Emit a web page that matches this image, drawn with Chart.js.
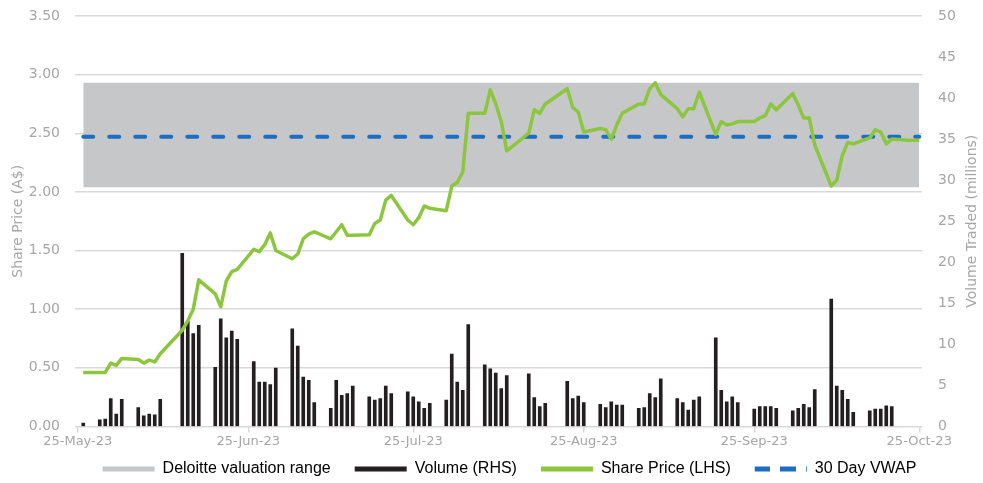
<!DOCTYPE html>
<html lang="en">
<head>
<meta charset="UTF-8">
<title>Share price, volume and valuation range</title>
<script src="https://cdn.jsdelivr.net/npm/chart.js@4/dist/chart.umd.min.js"></script>
<style>
  body { margin: 0; background: #fff; }
  #wrap { width: 983px; height: 483px; }
</style>
</head>
<body>
<div id="wrap"><canvas id="chart" width="983" height="483"></canvas></div>
<script>
// x axis runs over every calendar day, ticks on the 25th
const firstDay = [2023, 4, 25];
const dayCount = 154;
const monthNames = ['Jan', 'Feb', 'Mar', 'Apr', 'May', 'Jun', 'Jul', 'Aug', 'Sep', 'Oct', 'Nov', 'Dec'];

const tradeDates = [
  '26-May-23', '29-May-23', '30-May-23', '31-May-23', '1-Jun-23', '2-Jun-23',
  '5-Jun-23', '6-Jun-23', '7-Jun-23', '8-Jun-23', '9-Jun-23',
  '13-Jun-23', '14-Jun-23', '15-Jun-23', '16-Jun-23',
  '19-Jun-23', '20-Jun-23', '21-Jun-23', '22-Jun-23', '23-Jun-23',
  '26-Jun-23', '27-Jun-23', '28-Jun-23', '29-Jun-23', '30-Jun-23',
  '3-Jul-23', '4-Jul-23', '5-Jul-23', '6-Jul-23', '7-Jul-23',
  '10-Jul-23', '11-Jul-23', '12-Jul-23', '13-Jul-23', '14-Jul-23',
  '17-Jul-23', '18-Jul-23', '19-Jul-23', '20-Jul-23', '21-Jul-23',
  '24-Jul-23', '25-Jul-23', '26-Jul-23', '27-Jul-23', '28-Jul-23',
  '31-Jul-23', '1-Aug-23', '2-Aug-23', '3-Aug-23', '4-Aug-23',
  '7-Aug-23', '8-Aug-23', '9-Aug-23', '10-Aug-23', '11-Aug-23',
  '15-Aug-23', '16-Aug-23', '17-Aug-23', '18-Aug-23',
  '22-Aug-23', '23-Aug-23', '24-Aug-23', '25-Aug-23',
  '28-Aug-23', '29-Aug-23', '30-Aug-23', '31-Aug-23', '1-Sep-23',
  '4-Sep-23', '5-Sep-23', '6-Sep-23', '7-Sep-23', '8-Sep-23',
  '11-Sep-23', '12-Sep-23', '13-Sep-23', '14-Sep-23', '15-Sep-23',
  '18-Sep-23', '19-Sep-23', '20-Sep-23', '21-Sep-23', '22-Sep-23',
  '25-Sep-23', '26-Sep-23', '27-Sep-23', '28-Sep-23', '29-Sep-23',
  '2-Oct-23', '3-Oct-23', '4-Oct-23', '5-Oct-23', '6-Oct-23',
  '9-Oct-23', '10-Oct-23', '11-Oct-23', '12-Oct-23', '13-Oct-23',
  '16-Oct-23', '17-Oct-23', '18-Oct-23', '19-Oct-23', '20-Oct-23',
  '23-Oct-23', '24-Oct-23', '25-Oct-23'
];

// A$
const sharePrice = [
  0.46, 0.46, 0.46, 0.54, 0.52, 0.58,
  0.57, 0.54, 0.565, 0.55, 0.62,
  0.82, 0.90, 1.00, 1.25,
  1.13, 1.02, 1.24, 1.32, 1.34,
  1.51, 1.49, 1.55, 1.65, 1.50,
  1.43, 1.47, 1.60, 1.64, 1.66,
  1.60, 1.66, 1.72, 1.63, 1.63,
  1.635, 1.73, 1.76, 1.93, 1.97,
  1.76, 1.72, 1.78, 1.88, 1.86,
  1.84, 2.05, 2.08, 2.17, 2.67,
  2.67, 2.87, 2.75, 2.60, 2.35,
  2.50, 2.70, 2.67, 2.75,
  2.88, 2.72, 2.68, 2.51,
  2.54, 2.53, 2.45, 2.57, 2.67,
  2.75, 2.75, 2.88, 2.93, 2.83,
  2.71, 2.64, 2.71, 2.71, 2.85,
  2.49, 2.60, 2.57, 2.58, 2.60,
  2.60, 2.63, 2.65, 2.75, 2.70,
  2.84, 2.74, 2.63, 2.63, 2.40,
  2.05, 2.10, 2.31, 2.42, 2.41,
  2.46, 2.53, 2.51, 2.41, 2.45,
  2.44, 2.44, 2.44
];

// millions of shares
const volume = [
  0.4, 0.8, 0.9, 3.4, 1.5, 3.3,
  2.3, 1.3, 1.5, 1.4, 3.3,
  21.1, 12.8, 11.3, 12.3,
  7.2, 13.1, 10.8, 11.6, 10.6,
  7.9, 5.4, 5.4, 5.1, 7.1,
  11.9, 9.8, 6.0, 5.6, 2.9,
  2.2, 5.6, 3.8, 4.0, 4.9,
  3.6, 3.2, 3.4, 4.9, 4.0,
  4.2, 3.6, 3.0, 2.2, 2.8,
  3.2, 8.8, 5.4, 4.4, 12.4,
  7.5, 7.0, 6.5, 4.6, 6.2,
  6.4, 3.5, 2.4, 2.8,
  5.5, 3.4, 3.7, 2.9,
  2.7, 2.3, 3.0, 2.6, 2.6,
  2.2, 2.3, 4.0, 3.5, 5.8,
  3.4, 2.9, 2.0, 3.2, 3.6,
  10.8, 4.4, 3.0, 3.6, 2.9,
  2.1, 2.4, 2.4, 2.4, 2.2,
  1.9, 2.2, 2.7, 2.3, 4.5,
  15.5, 4.9, 4.4, 3.3, 1.7,
  1.9, 2.1, 2.1, 2.5, 2.4,
  null, null, null
];

const valuationLow = 2.04;
const valuationHigh = 2.93;
const vwap30 = 2.47;

const labels = [];
for (let i = 0; i < dayCount; i++) {
  const d = new Date(firstDay[0], firstDay[1], firstDay[2] + i);
  labels.push(d.getDate() + '-' + monthNames[d.getMonth()] + '-' + String(d.getFullYear()).slice(2));
}

const priceByDay = labels.map(l => { const k = tradeDates.indexOf(l); return k < 0 ? null : sharePrice[k]; });
const volByDay = labels.map(l => { const k = tradeDates.indexOf(l); return k < 0 ? null : volume[k]; });
const firstIdx = labels.indexOf(tradeDates[0]);
const bandByDay = labels.map((l, i) => i >= firstIdx ? valuationHigh : null);
const vwapByDay = labels.map((l, i) => i >= firstIdx ? vwap30 : null);

const GREY = '#a6a6a6';
const GRID = '#d9d9d9';
const GREEN = '#8cc63f';
const BLUE = '#1b6ec2';
const BAND = '#c6c7c9';
const BAR = '#231f20';
const NONE = 'rgba(0,0,0,0)';

// dashed legend swatch for the VWAP
function dashPattern() {
  const c = document.createElement('canvas');
  c.width = 26; c.height = 1;
  const g = c.getContext('2d');
  g.fillStyle = BLUE;
  g.fillRect(0, 0, 16, 1);
  return g.createPattern(c, 'repeat');
}

const axisTitles = {
  id: 'axisTitles',
  afterLayout(chart) {
    // legend sits a little right of centre and closer to the axis labels
    const lg = chart.legend;
    const dy = 437 - lg.top;
    lg.top += dy; lg.bottom += dy;
    lg.left += 18; lg.right += 18;
  },
  afterDraw(chart) {
    const { ctx, chartArea } = chart;
    const mid = (chartArea.top + chartArea.bottom) / 2;
    ctx.save();
    ctx.fillStyle = GREY;
    ctx.font = '14px "DejaVu Sans"';
    ctx.textAlign = 'center';
    ctx.textBaseline = 'middle';
    [[18, 'Share Price (A$)'], [972, 'Volume Traded (millions)']].forEach(([x, t]) => {
      ctx.save();
      ctx.translate(x, mid);
      ctx.rotate(-Math.PI / 2);
      ctx.fillText(t, 0, 0);
      ctx.restore();
    });
    ctx.restore();
  }
};

const swatches = [BAND, BAR, GREEN, null];

new Chart(document.getElementById('chart'), {
  data: {
    labels,
    datasets: [
      {
        type: 'line',
        label: 'Deloitte valuation range',
        data: bandByDay,
        yAxisID: 'y',
        borderWidth: 0,
        pointRadius: 0,
        backgroundColor: BAND,
        fill: { value: valuationLow },
        order: 4
      },
      {
        type: 'bar',
        label: 'Volume (RHS)',
        data: volByDay,
        yAxisID: 'y1',
        backgroundColor: BAR,
        barThickness: 3,
        order: 3
      },
      {
        type: 'line',
        label: 'Share Price (LHS)',
        data: priceByDay,
        yAxisID: 'y',
        borderColor: GREEN,
        borderWidth: 3.5,
        borderJoinStyle: 'round',
        pointRadius: 0,
        spanGaps: true,
        tension: 0,
        fill: false,
        order: 1
      },
      {
        type: 'line',
        label: '30 Day VWAP',
        data: vwapByDay,
        yAxisID: 'y',
        borderColor: BLUE,
        borderWidth: 4,
        borderDash: [10, 16],
        borderCapStyle: 'round',
        pointRadius: 0,
        fill: false,
        order: 2
      }
    ]
  },
  options: {
    responsive: false,
    animation: false,
    layout: { padding: { top: 16, left: 0, right: 0, bottom: -17 } },
    plugins: {
      tooltip: { enabled: false },
      legend: {
        position: 'bottom',
        labels: {
          boxWidth: 52,
          boxHeight: 5,
          padding: 24,
          color: '#404040',
          font: { family: '"Liberation Sans"', size: 16 },
          generateLabels(chart) {
            return chart.data.datasets.map((ds, i) => ({
              text: ds.label,
              datasetIndex: i,
              fillStyle: swatches[i] || dashPattern(),
              strokeStyle: NONE,
              lineWidth: 0,
              hidden: false
            }));
          }
        }
      }
    },
    scales: {
      x: {
        type: 'category',
        offset: true,
        grid: { offset: false, drawOnChartArea: false, drawTicks: true, tickLength: 6, color: GRID, lineWidth: 1.5 },
        border: { display: false },
        ticks: {
          autoSkip: false,
          maxRotation: 0,
          padding: 1,
          color: GREY,
          font: { family: '"DejaVu Sans"', size: 13 },
          callback(v) {
            const l = this.getLabelForValue(v);
            return l.startsWith('25-') ? l : null;
          }
        }
      },
      y: {
        position: 'left',
        min: 0,
        max: 3.5,
        grid: { color: GRID, lineWidth: 1.5, drawTicks: true, tickLength: 15, tickColor: NONE },
        border: { display: false },
        ticks: {
          stepSize: 0.5,
          padding: 0,
          color: GREY,
          font: { family: '"DejaVu Sans"', size: 14 },
          callback: v => v.toFixed(2)
        },
        afterFit(s) { s.width = 75; }
      },
      y1: {
        position: 'right',
        min: 0,
        max: 50,
        grid: { drawOnChartArea: false, drawTicks: true, tickLength: 16, tickColor: NONE },
        border: { display: false },
        ticks: {
          stepSize: 5,
          padding: 0,
          color: GREY,
          font: { family: '"DejaVu Sans"', size: 14 }
        },
        afterFit(s) { s.width = 61; }
      }
    }
  },
  plugins: [axisTitles]
});
</script>
</body>
</html>
